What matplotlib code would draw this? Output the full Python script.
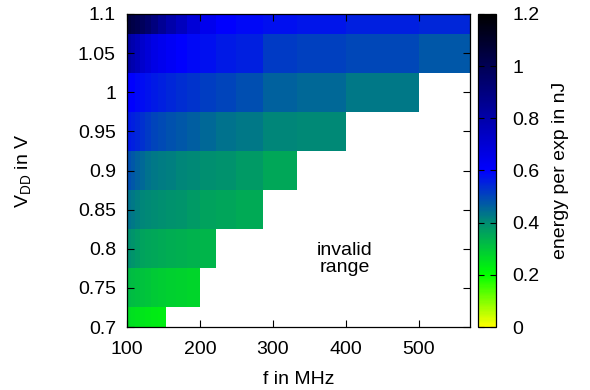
import numpy as np
import matplotlib
matplotlib.use("Agg")
import matplotlib.pyplot as plt
from matplotlib.colors import LinearSegmentedColormap

plt.rcParams['font.family'] = ['Liberation Sans', 'DejaVu Sans']
FS = 14
plt.rcParams['font.size'] = FS

# frequency grid (cell edges) in MHz
f_edges = [100, 105.3, 111.1, 117.6, 125, 133.3, 142.9, 153.8, 166.7, 181.8,
           200, 222.2, 250, 285.7, 333.3, 400, 500, 666.7]
# supply voltages (row centres) in V
vdd = [0.7, 0.75, 0.8, 0.85, 0.9, 0.95, 1.0, 1.05, 1.1]

# energy per exp in nJ, one list per VDD row (valid cells only)
e_070 = [0.26, 0.255, 0.25, 0.245, 0.24, 0.235, 0.23]
e_075 = [0.32, 0.315, 0.31, 0.305, 0.30, 0.295, 0.29, 0.285, 0.28, 0.275]
e_080 = [0.395, 0.385, 0.375, 0.365, 0.36, 0.355, 0.35, 0.345, 0.34, 0.335, 0.33]
e_085 = [0.44, 0.43, 0.42, 0.41, 0.405, 0.40, 0.395, 0.39, 0.385, 0.375, 0.365,
         0.36, 0.35]
e_090 = [0.49, 0.475, 0.46, 0.45, 0.44, 0.43, 0.425, 0.42, 0.41, 0.405, 0.395,
         0.39, 0.375, 0.355]
e_095 = [0.565, 0.555, 0.545, 0.53, 0.52, 0.505, 0.495, 0.485, 0.475, 0.465, 0.45,
         0.44, 0.43, 0.41, 0.405]
e_100 = [0.60, 0.60, 0.59, 0.585, 0.575, 0.565, 0.555, 0.545, 0.535, 0.525, 0.515,
         0.505, 0.49, 0.46, 0.45, 0.43]
e_105 = [0.82, 0.79, 0.76, 0.72, 0.69, 0.66, 0.64, 0.62, 0.60, 0.59, 0.58, 0.567,
         0.555, 0.52, 0.51, 0.50, 0.475]
e_110 = [1.05, 1.03, 1.01, 0.98, 0.95, 0.90, 0.85, 0.80, 0.75, 0.69, 0.64, 0.60,
         0.59, 0.58, 0.57, 0.555, 0.545]
rows = [e_070, e_075, e_080, e_085, e_090, e_095, e_100, e_105, e_110]

ncol = len(f_edges) - 1
Z = np.full((len(vdd), ncol), np.nan)
for i, r in enumerate(rows):
    Z[i, :len(r)] = r
Z = np.ma.masked_invalid(Z)

v_edges = [v - 0.025 for v in vdd] + [vdd[-1] + 0.025]

cmap = LinearSegmentedColormap.from_list(
    "energy",
    [(0.0, (1.0, 1.0, 0.0)),
     (0.2 / 1.2, (0.0, 1.0, 0.0)),
     (0.4 / 1.2, (0.0, 0.55, 0.45)),
     (0.6 / 1.2, (0.0, 0.0, 1.0)),
     (1.0, (0.0, 0.0, 0.0))])
cmap.set_bad((1, 1, 1, 0))

fig = plt.figure(figsize=(5.9, 3.9), dpi=100)
ax = fig.add_axes([127 / 590, 1 - 327 / 390, 343 / 590, 313 / 390])
mesh = ax.pcolormesh(f_edges, v_edges, Z, cmap=cmap, vmin=0, vmax=1.2,
                     shading='flat', antialiased=False, linewidth=0)
ax.set_xlim(100, 570)
ax.set_ylim(0.7, 1.1)
ax.set_xticks([100, 200, 300, 400, 500])
yt = [0.7, 0.75, 0.8, 0.85, 0.9, 0.95, 1.0, 1.05, 1.1]
ax.set_yticks(yt)
ax.set_yticklabels(['%g' % v for v in yt])
ax.tick_params(direction='in', top=True, right=True, length=5, width=0.8,
               labelsize=FS)
ax.tick_params(axis='y', pad=8)
ax.tick_params(axis='x', pad=10)
for s in ax.spines.values():
    s.set_linewidth(0.9)
ax.set_xlabel('f in MHz', fontsize=FS)
ax.xaxis.set_label_coords(0.5, -0.14)
ax.set_ylabel(r'V$_\mathregular{DD}$ in V', fontsize=FS)
ax.yaxis.set_label_coords(-0.27, 0.5)
ax.text(398, 0.787, 'invalid\nrange', ha='center', va='center',
        fontsize=FS, linespacing=1.0)

cax = fig.add_axes([478 / 590, 1 - 327 / 390, 18 / 590, 313 / 390])
cb = fig.colorbar(mesh, cax=cax)
cb.set_ticks([0, 0.2, 0.4, 0.6, 0.8, 1.0, 1.2])
cb.set_ticklabels(['0', '0.2', '0.4', '0.6', '0.8', '1', '1.2'])
cax.tick_params(direction='in', left=True, right=True, length=4, width=0.8,
                labelsize=FS, pad=12)
cb.outline.set_linewidth(0.9)
cb.set_label('energy per exp in nJ', fontsize=FS)
cax.yaxis.set_label_coords(4.1, 0.5)

fig.savefig('out.png', dpi=100)
